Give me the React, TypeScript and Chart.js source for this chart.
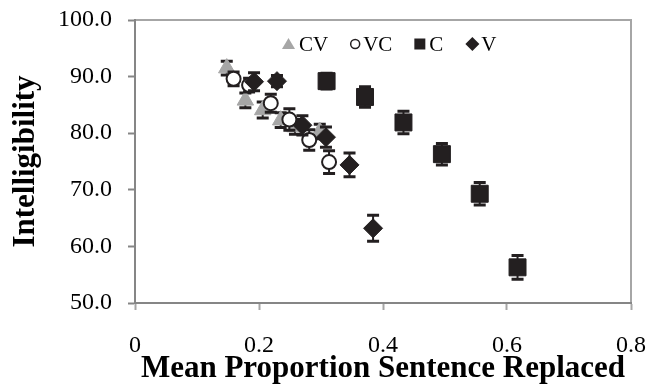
import React, { useEffect, useRef } from 'react';
import { Chart, registerables } from 'chart.js';

Chart.register(...registerables);

// ---- data ----
const seriesNames = ['CV', 'VC', 'C', 'V'];

const cvX = [0.148, 0.178, 0.206, 0.235, 0.258, 0.298];
const cvY = [91.5, 85.8, 84.1, 82.3, 81.1, 80.3];
const cvErr = [1.2, 1.3, 1.4, 1.3, 1.3, 1.3];

const vcX = [0.159, 0.184, 0.219, 0.249, 0.281, 0.313];
const vcY = [89.6, 88.5, 85.3, 82.4, 78.8, 74.9];
const vcErr = [1.2, 1.2, 1.6, 1.9, 1.8, 2.0];

const cX = [0.309, 0.371, 0.433, 0.495, 0.556, 0.617];
const cY = [89.2, 86.4, 81.9, 76.3, 69.3, 56.3];
const cErr = [1.4, 1.8, 2.0, 1.9, 2.0, 2.1];

const vX = [0.192, 0.229, 0.270, 0.308, 0.346, 0.384];
const vY = [89.1, 89.2, 81.4, 79.3, 74.4, 63.2];
const vErr = [1.6, 1.0, 1.7, 1.8, 2.1, 2.3];

const xTicks = [0, 0.2, 0.4, 0.6, 0.8];
const yTicks = [50, 60, 70, 80, 90, 100];

const xTitle = 'Mean Proportion Sentence Replaced';
const yTitle = 'Intelligibility';

// ---- styles ----
const FONT = "'Liberation Serif', 'Times New Roman', serif";
const INK = '#231f20';
const GRAY = '#a6a6a6';
const AXIS = '#868686';

const pts = (xs: number[], ys: number[]) => xs.map((x, i) => ({ x, y: ys[i] }));

const errorBarPlugin = {
  id: 'errorBars',
  beforeDatasetDraw(chart: any, args: any) {
    const ds = chart.data.datasets[args.index];
    const errs: number[] | undefined = ds.errors;
    if (!errs) return;
    const ctx = chart.ctx;
    const yS = chart.scales.y;
    ctx.save();
    ctx.strokeStyle = INK;
    args.meta.data.forEach((el: any, i: number) => {
      const raw = ds.data[i];
      const e = errs[i];
      const top = yS.getPixelForValue(raw.y + e);
      const bot = yS.getPixelForValue(raw.y - e);
      const x = el.x;
      ctx.lineWidth = 2;
      ctx.beginPath();
      ctx.moveTo(x, top);
      ctx.lineTo(x, bot);
      ctx.stroke();
      ctx.lineWidth = 3;
      ctx.beginPath();
      ctx.moveTo(x - 6, top);
      ctx.lineTo(x + 6, top);
      ctx.moveTo(x - 6, bot);
      ctx.lineTo(x + 6, bot);
      ctx.stroke();
    });
    ctx.restore();
  },
};

const framePlugin = {
  id: 'frame',
  beforeDraw(chart: any) {
    const { ctx, chartArea: a } = chart;
    ctx.save();
    ctx.strokeStyle = GRAY;
    ctx.lineWidth = 2;
    ctx.strokeRect(a.left, a.top, a.right - a.left, a.bottom - a.top);
    ctx.restore();
  },
};

type LegendItem = { label: string; shape: string; w: number; gap: number };
const legendItems: LegendItem[] = [
  { label: seriesNames[0], shape: 'triangle', w: 13, gap: 4 },
  { label: seriesNames[1], shape: 'circle', w: 10, gap: 3 },
  { label: seriesNames[2], shape: 'square', w: 11, gap: 4 },
  { label: seriesNames[3], shape: 'diamond', w: 14, gap: 2 },
];

const legendPlugin = {
  id: 'customLegend',
  afterDatasetsDraw(chart: any) {
    const { ctx, chartArea: a } = chart;
    ctx.save();
    ctx.font = `21px ${FONT}`;
    ctx.textBaseline = 'middle';
    ctx.textAlign = 'left';
    let x = a.left + 147;
    const cy = a.top + 24;
    legendItems.forEach((it) => {
      const cx = x + it.w / 2;
      const h = it.w / 2;
      ctx.beginPath();
      if (it.shape === 'triangle') {
        ctx.fillStyle = GRAY;
        ctx.moveTo(cx, cy - 6);
        ctx.lineTo(cx + h, cy + 5);
        ctx.lineTo(cx - h, cy + 5);
        ctx.closePath();
        ctx.fill();
      } else if (it.shape === 'circle') {
        ctx.fillStyle = '#fff';
        ctx.strokeStyle = INK;
        ctx.lineWidth = 1.5;
        ctx.arc(cx, cy, h - 0.5, 0, Math.PI * 2);
        ctx.fill();
        ctx.stroke();
      } else if (it.shape === 'square') {
        ctx.fillStyle = INK;
        ctx.rect(cx - h, cy - h, it.w, it.w);
        ctx.fill();
      } else {
        ctx.fillStyle = INK;
        ctx.moveTo(cx, cy - h);
        ctx.lineTo(cx + h, cy);
        ctx.lineTo(cx, cy + h);
        ctx.lineTo(cx - h, cy);
        ctx.closePath();
        ctx.fill();
      }
      x += it.w + it.gap;
      ctx.fillStyle = '#000';
      ctx.fillText(it.label, x, cy + 1);
      x += ctx.measureText(it.label).width + 22;
    });
    ctx.restore();
  },
};

const noScalePadding = (s: any) => {
  s.paddingTop = 0;
  s.paddingBottom = 0;
  s.paddingLeft = 0;
  s.paddingRight = 0;
};

export default function App() {
  const ref = useRef<HTMLCanvasElement | null>(null);

  useEffect(() => {
    if (!ref.current) return;
    const chart = new Chart(ref.current, {
      type: 'scatter',
      data: {
        datasets: [
          {
            label: seriesNames[0],
            data: pts(cvX, cvY),
            errors: cvErr,
            order: 4,
            pointStyle: 'triangle',
            radius: 9.5,
            backgroundColor: GRAY,
            borderColor: GRAY,
            borderWidth: 1,
          } as any,
          {
            label: seriesNames[1],
            data: pts(vcX, vcY),
            errors: vcErr,
            order: 3,
            pointStyle: 'circle',
            radius: 7,
            backgroundColor: '#ffffff',
            borderColor: INK,
            borderWidth: 2,
          } as any,
          {
            label: seriesNames[2],
            data: pts(cX, cY),
            errors: cErr,
            order: 2,
            pointStyle: 'rect',
            radius: 12,
            backgroundColor: INK,
            borderColor: INK,
            borderWidth: 1,
          } as any,
          {
            label: seriesNames[3],
            data: pts(vX, vY),
            errors: vErr,
            order: 1,
            pointStyle: 'rectRot',
            radius: 9.5,
            backgroundColor: INK,
            borderColor: INK,
            borderWidth: 1,
          } as any,
        ],
      },
      options: {
        animation: false,
        responsive: true,
        maintainAspectRatio: false,
        layout: { padding: { left: 0, top: 20, right: 18, bottom: 0 } },
        plugins: {
          legend: { display: false },
          tooltip: { enabled: false },
        },
        elements: { point: { hoverRadius: 0 } },
        scales: {
          x: {
            type: 'linear',
            min: xTicks[0],
            max: xTicks[xTicks.length - 1],
            afterBuildTicks: (s: any) => {
              s.ticks = xTicks.map((v) => ({ value: v }));
            },
            afterFit: (s: any) => {
              s.height = 88;
              noScalePadding(s);
            },
            ticks: {
              font: { family: FONT, size: 24 },
              color: '#000',
              padding: 21,
              maxRotation: 0,
              autoSkip: false,
              callback: (v: any) => String(Number(v)),
            },
            grid: {
              drawOnChartArea: false,
              drawTicks: true,
              tickLength: 7,
              color: GRAY,
              tickWidth: 2,
            },
            border: { display: true, color: AXIS, width: 2 },
            title: {
              display: true,
              text: xTitle,
              color: '#000',
              font: { family: FONT, size: 31, weight: 'bold', lineHeight: 1 },
              padding: { top: 0, bottom: 7 },
            },
          },
          y: {
            type: 'linear',
            min: yTicks[0],
            max: yTicks[yTicks.length - 1],
            afterBuildTicks: (s: any) => {
              s.ticks = yTicks.map((v) => ({ value: v }));
            },
            afterFit: (s: any) => {
              s.width = 135;
              noScalePadding(s);
            },
            ticks: {
              font: { family: FONT, size: 24 },
              color: '#000',
              padding: 16,
              autoSkip: false,
              callback: (v: any) => Number(v).toFixed(1),
            },
            grid: {
              drawOnChartArea: false,
              drawTicks: true,
              tickLength: 7,
              color: AXIS,
              tickWidth: 2,
            },
            border: { display: true, color: AXIS, width: 2 },
            title: {
              display: true,
              text: yTitle,
              color: '#000',
              font: { family: FONT, size: 31, weight: 'bold', lineHeight: 1 },
              padding: { top: 10.5, bottom: 0 },
            },
          },
        },
      } as any,
      plugins: [framePlugin, errorBarPlugin, legendPlugin],
    });
    return () => chart.destroy();
  }, []);

  return (
    <div style={{ position: 'absolute', left: 0, top: 0, width: 649, height: 391, background: '#fff' }}>
      <canvas ref={ref} />
    </div>
  );
}
